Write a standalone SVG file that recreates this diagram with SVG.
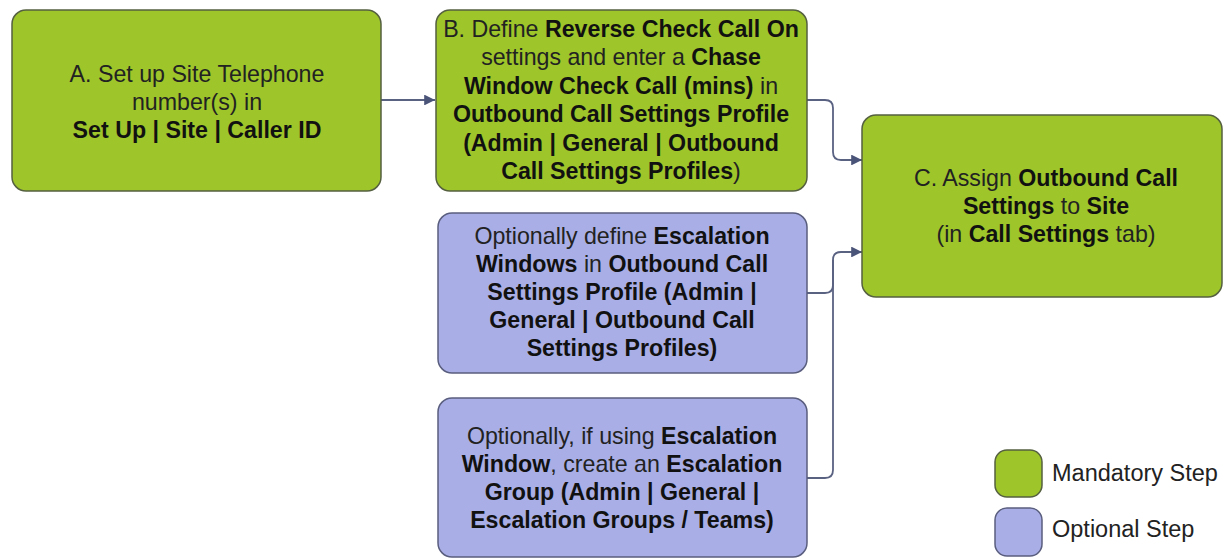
<svg xmlns="http://www.w3.org/2000/svg" width="1229" height="559" viewBox="0 0 1229 559">
<defs>
<style>
.mand{fill:#9ec52a;stroke:#556040;stroke-width:1.5}
.opt{fill:#a9afe6;stroke:#5a5e7e;stroke-width:1.5}
.t{font-family:"Liberation Sans",Arial,sans-serif;font-size:23.2px;fill:#222;text-anchor:middle;dominant-baseline:central}
.b{font-weight:bold;fill:#111}
.lg{font-family:"Liberation Sans",Arial,sans-serif;font-size:23.5px;fill:#222;dominant-baseline:central}
.conn{fill:none;stroke:#5a6282;stroke-width:1.8}
</style>
<marker id="arr" viewBox="0 0 10 10" refX="10" refY="5" markerWidth="6" markerHeight="6" orient="auto" markerUnits="strokeWidth">
<path d="M0,0 L10,5 L0,10 z" fill="#4a5478"/>
</marker>
</defs>
<rect width="1229" height="559" fill="#ffffff"/>

<g id="connectors">
<path class="conn" d="M381,100 H435" marker-end="url(#arr)"/>
<path class="conn" d="M807,100 H825 Q833,100 833,108 V152 Q833,160 841,160 H862" marker-end="url(#arr)"/>
<path class="conn" d="M807,293 H825 Q833,293 833,285 V260 Q833,252 841,252 H862" marker-end="url(#arr)"/>
<path class="conn" d="M807,478 H825 Q833,478 833,470 V260"/>
</g>

<g id="nodeA">
<rect class="mand" x="12" y="10" width="369" height="181" rx="14"/>
<text class="t" x="197" y="74">A. Set up Site Telephone</text>
<text class="t" x="197" y="102">number(s) in</text>
<text class="t b" x="197" y="130">Set Up | Site | Caller ID</text>
</g>

<g id="nodeB">
<rect class="mand" x="436" y="10" width="371" height="181" rx="14"/>
<text class="t" x="621" y="29">B. Define <tspan class="b">Reverse Check Call On</tspan></text>
<text class="t" x="621" y="57">settings and enter a <tspan class="b">Chase</tspan></text>
<text class="t" x="621" y="86"><tspan class="b">Window Check Call (mins)</tspan> in</text>
<text class="t b" x="621" y="114">Outbound Call Settings Profile</text>
<text class="t b" x="621" y="143">(Admin | General | Outbound</text>
<text class="t" x="621" y="171"><tspan class="b">Call Settings Profiles</tspan>)</text>
</g>

<g id="nodeC">
<rect class="mand" x="862" y="115" width="360" height="182" rx="14"/>
<text class="t" x="1046" y="178">C. Assign <tspan class="b">Outbound Call</tspan></text>
<text class="t" x="1046" y="206"><tspan class="b">Settings</tspan> to <tspan class="b">Site</tspan></text>
<text class="t" x="1046" y="234">(in <tspan class="b">Call Settings</tspan> tab)</text>
</g>

<g id="nodeOpt1">
<rect class="opt" x="438" y="213" width="369" height="160" rx="14"/>
<text class="t" x="622" y="236">Optionally define <tspan class="b">Escalation</tspan></text>
<text class="t" x="622" y="264"><tspan class="b">Windows</tspan> in <tspan class="b">Outbound Call</tspan></text>
<text class="t b" x="622" y="292">Settings Profile (Admin |</text>
<text class="t b" x="622" y="320">General | Outbound Call</text>
<text class="t b" x="622" y="348">Settings Profiles)</text>
</g>

<g id="nodeOpt2">
<rect class="opt" x="438" y="398" width="369" height="159" rx="14"/>
<text class="t" x="622" y="436">Optionally, if using <tspan class="b">Escalation</tspan></text>
<text class="t" x="622" y="464"><tspan class="b">Window</tspan>, create an <tspan class="b">Escalation</tspan></text>
<text class="t b" x="622" y="492">Group (Admin | General |</text>
<text class="t b" x="622" y="520">Escalation Groups / Teams)</text>
</g>

<g id="legend">
<rect class="mand" x="995" y="450" width="47" height="47" rx="12"/>
<text class="lg" x="1052" y="473">Mandatory Step</text>
<rect class="opt" x="995" y="508" width="47" height="48" rx="12"/>
<text class="lg" x="1052" y="529">Optional Step</text>
</g>
</svg>
